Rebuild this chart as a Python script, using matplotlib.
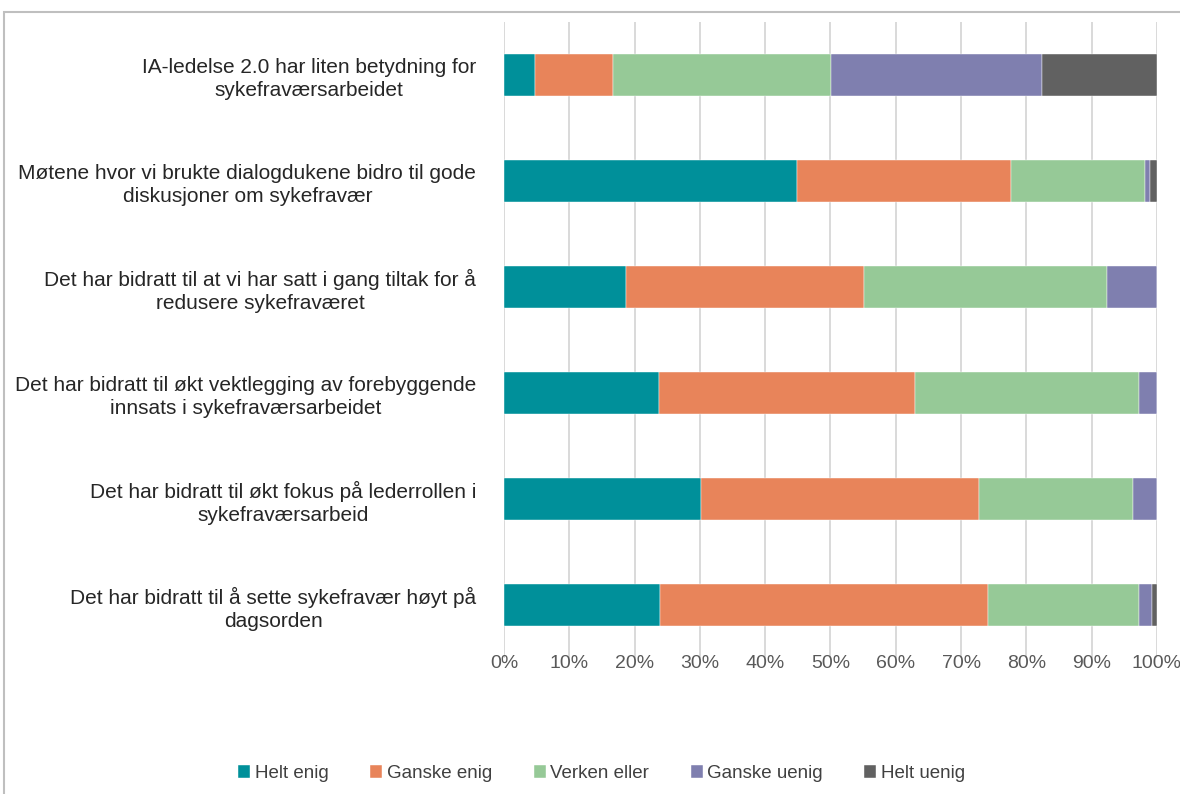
import matplotlib.pyplot as plt
from matplotlib.patches import Rectangle
from matplotlib.ticker import PercentFormatter

plt.rcParams['font.family'] = ['Liberation Sans', 'DejaVu Sans']

categories = [
    "IA-ledelse 2.0 har liten betydning for\nsykefraværsarbeidet",
    "Møtene hvor vi brukte dialogdukene bidro til gode\ndiskusjoner om sykefravær",
    "Det har bidratt til at vi har satt i gang tiltak for å\nredusere sykefraværet",
    "Det har bidratt til økt vektlegging av forebyggende\ninnsats i sykefraværsarbeidet",
    "Det har bidratt til økt fokus på lederrollen i\nsykefraværsarbeid",
    "Det har bidratt til å sette sykefravær høyt på\ndagsorden",
]
series_names = ["Helt enig", "Ganske enig", "Verken eller", "Ganske uenig", "Helt uenig"]
helt_enig = [4.8, 44.9, 18.7, 23.7, 30.1, 23.9]
ganske_enig = [11.9, 32.8, 36.4, 39.2, 42.7, 50.2]
verken_eller = [33.4, 20.4, 37.2, 34.4, 23.6, 23.2]
ganske_uenig = [32.3, 0.9, 7.7, 2.7, 3.6, 2.0]
helt_uenig = [17.6, 1.0, 0.0, 0.0, 0.0, 0.7]
colors = ["#00909A", "#E8845A", "#96C997", "#7F7FAF", "#616161"]


def main():
    fig = plt.figure(figsize=(11.8, 7.94), dpi=100)
    ax = fig.add_axes([0.4271, 0.1713, 0.5534, 0.801])

    # ramme rundt figuren
    fig.patches.append(Rectangle((0.003, -0.05), 1.5, 1.035, transform=fig.transFigure,
                                 fill=False, edgecolor="#bfbfbf", linewidth=1.5))

    data = [helt_enig, ganske_enig, verken_eller, ganske_uenig, helt_uenig]
    y = list(range(len(categories)))
    left = [0.0] * len(categories)
    for name, vals, c in zip(series_names, data, colors):
        ax.barh(y, vals, left=left, height=0.4, color=c, label=name,
                edgecolor="white", linewidth=0.3, zorder=3)
        left = [l + v for l, v in zip(left, vals)]

    ax.set_xlim(0, 100)
    ax.set_ylim(len(categories) - 0.5, -0.5)
    ax.set_xticks(range(0, 101, 10))
    ax.xaxis.set_major_formatter(PercentFormatter(decimals=0))
    ax.set_yticks(y)
    ax.set_yticklabels(categories, fontsize=15, color="#262626",
                       multialignment="center", linespacing=1.25)
    ax.tick_params(axis="y", length=0, pad=20)
    ax.tick_params(axis="x", length=0, pad=-2, labelsize=14, labelcolor="#595959")
    ax.grid(axis="x", color="#d9d9d9", linewidth=1.4, zorder=0)
    for s in ax.spines.values():
        s.set_visible(False)

    fig.legend(loc="center", bbox_to_anchor=(0.51, 0.026), ncol=5, frameon=False,
               fontsize=13.5, handlelength=0.65, handleheight=0.65, handletextpad=0.25,
               columnspacing=2.2, labelcolor="#404040")

    fig.savefig("out.png", dpi=100)


if __name__ == "__main__":
    main()
